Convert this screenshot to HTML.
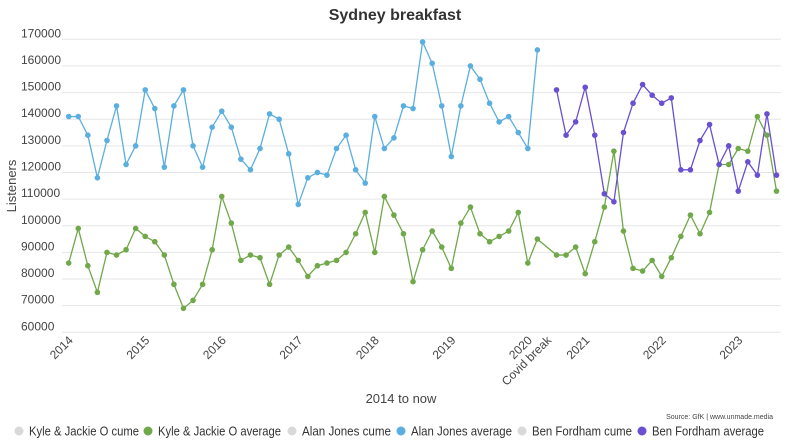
<!DOCTYPE html>
<html><head><meta charset="utf-8">
<style>
html,body{margin:0;padding:0;background:#fff;}
svg{display:block;font-family:"Liberation Sans",sans-serif;}
</style></head>
<body>
<svg id="chart" width="789" height="446" viewBox="0 0 789 446" xmlns="http://www.w3.org/2000/svg">
<text x="395" y="20" text-anchor="middle" font-size="16" font-weight="bold" fill="#333">Sydney breakfast</text>
<g id="grid"></g>
<g id="yticks"></g>
<text transform="translate(16,186) rotate(-90)" text-anchor="middle" font-size="13" fill="#444">Listeners</text>
<g id="xticks"></g>
<g id="series"></g>
<text x="401" y="403" text-anchor="middle" font-size="13" fill="#444">2014 to now</text>
<text x="773" y="419" text-anchor="end" font-size="7" fill="#444">Source: GfK | www.unmade.media</text>
<g id="legend"></g>
</svg>
<script>
const yTicks = [60000,70000,80000,90000,100000,110000,120000,130000,140000,150000,160000,170000];
const xLabels = [[0,"2014"],[8,"2015"],[16,"2016"],[24,"2017"],[32,"2018"],[40,"2019"],[48,"2020"],[50,"Covid break"],[54,"2021"],[62,"2022"],[70,"2023"]];
const kyle = [86000,99000,85000,75000,90000,89000,91000,99000,96000,94000,89000,78000,69000,72000,78000,91000,111000,101000,87000,89000,88000,78000,
  89000,92000,87000,81000,85000,86000,87000,90000,97000,105000,90000,111000,104000,97000,79000,91000,98000,92000,84000,101000,107000,97000,94000,96000,98000,105000,86000,95000,
  null,
  89000,89000,92000,82000,94000,107000,128000,98000,84000,83000,87000,81000,88000,96000,104000,97000,105000,123000,123000,129000,128000,141000,134000,113000];
const alan = [141000,141000,134000,118000,132000,145000,123000,130000,151000,144000,122000,145000,151000,130000,122000,137000,143000,137000,125000,121000,129000,142000,
  140000,127000,108000,118000,120000,119000,129000,134000,121000,116000,141000,129000,133000,145000,144000,169000,161000,145000,126000,145000,160000,155000,146000,139000,141000,135000,129000,166000];
const benStart = 51;
const ben = [151000,134000,139000,152000,134000,112000,109000,135000,146000,153000,149000,146000,148000,121000,121000,132000,138000,123000,130000,113000,124000,119000,142000,119000];

const NS="http://www.w3.org/2000/svg";
const X0=68.7, STEP=9.565, Y170=39.3, Y60=332.3;
function xs(i){return X0+i*STEP;}
function ys(v){return Y60-(v-60000)/(110000)*(Y60-Y170);}
function mk(tag,attrs,parent){const e=document.createElementNS(NS,tag);for(const k in attrs)e.setAttribute(k,attrs[k]);parent.appendChild(e);return e;}

const grid=document.getElementById('grid'), yt=document.getElementById('yticks');
yTicks.forEach(v=>{
  const l=mk('line',{x1:62,x2:781,y1:ys(v),y2:ys(v),stroke:'#e6e6e6','stroke-width':1},grid);
  
  
  const t=mk('text',{x:21,y:ys(v)-2,'font-size':12,fill:'#444'},yt);
  
  
  t.textContent=v;
});
const xt=document.getElementById('xticks');
xLabels.forEach(([i,s])=>{
  const x=xs(i)+5, y=341;
  const t=mk('text',{x:x,y:y,'text-anchor':'end','font-size':12,fill:'#444',transform:`rotate(-45 ${x} ${y})`},xt);
  
  
  t.textContent=s;
});

const sg=document.getElementById('series');
function drawSeries(vals,start,color,name){
  const g=mk('g',{},sg);
  
  
  const pts=[];
  vals.forEach((v,k)=>{if(v!==null)pts.push([xs(start+k),ys(v)]);});
  const p=mk('polyline',{points:pts.map(p=>p.join(',')).join(' '),fill:'none',stroke:color,'stroke-width':1.3},g);
  
  
  pts.forEach(([x,y])=>{
    const c=mk('circle',{cx:x,cy:y,r:2.8,fill:color},g);
    
    
  });
}
drawSeries(kyle,0,'#70a84a','kyle-jackie-o-average');
drawSeries(alan,0,'#5aafdf','alan-jones-average');
drawSeries(ben,benStart,'#6a4fd1','ben-fordham-average');

const legendItems=[["Kyle & Jackie O cume","#d9d9d9",19,110],["Kyle & Jackie O average","#70a84a",148,123],["Alan Jones cume","#d9d9d9",292,89],["Alan Jones average","#5aafdf",401,101],["Ben Fordham cume","#d9d9d9",522,100],["Ben Fordham average","#6a4fd1",642,112]];
const lg=document.getElementById('legend');
legendItems.forEach(([s,c,x,w])=>{
  const g=mk('g',{},lg);
  
  
  mk('circle',{cx:x,cy:431,r:4.5,fill:c},g);
  const t=mk('text',{x:x+10,y:435.5,'font-size':13,fill:'#333',textLength:w,lengthAdjust:'spacingAndGlyphs'},g);
  t.textContent=s;
});
</script>
</body></html>
